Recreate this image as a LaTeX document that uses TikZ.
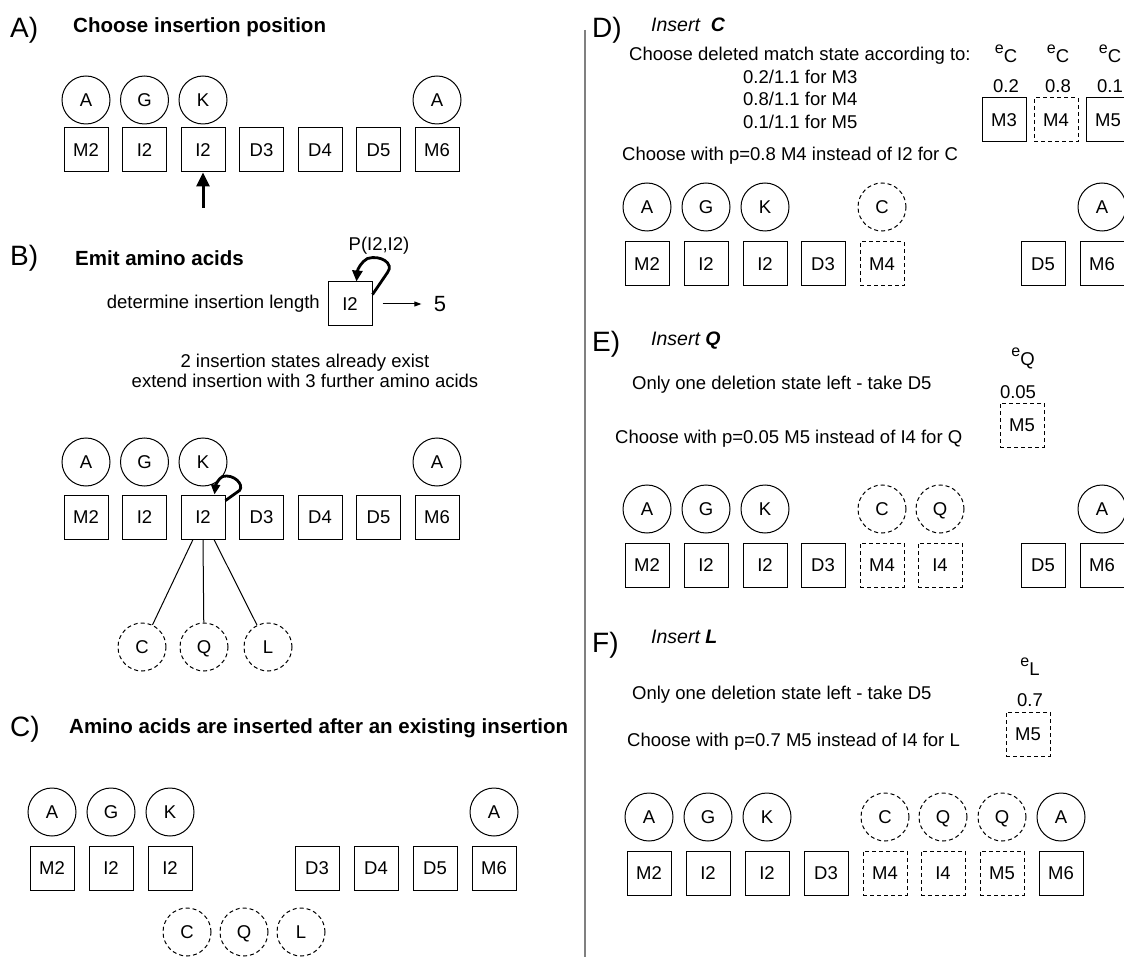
\documentclass[tikz,border=0pt]{standalone}
\usepackage{fontspec}
\setmainfont{Liberation Sans}
\usetikzlibrary{arrows.meta,calc}
\begin{document}
\begin{tikzpicture}[x=1pt,y=-1pt,
  every node/.style={font=\fontsize{18.5}{20}\selectfont},
  st/.style={draw,line width=1pt,minimum size=44pt,inner sep=0pt,text height=13.3pt,text depth=0pt},
  dst/.style={st,dash pattern=on 4pt off 3pt},
  aa/.style={draw,circle,line width=1pt,minimum size=48pt,inner sep=0pt,text height=13.3pt,text depth=0pt},
  daa/.style={aa,dash pattern=on 4pt off 3pt},
  plab/.style={font=\fontsize{28}{30}\selectfont,anchor=base west,inner sep=0pt},
  head/.style={font=\fontsize{20.5}{22}\selectfont\bfseries,anchor=base west,inner sep=0pt},
  ins/.style={font=\fontsize{19.5}{21}\selectfont\itshape,anchor=base west,inner sep=0pt},
  txt/.style={anchor=base west,inner sep=0pt},
  ctxt/.style={anchor=base,inner sep=0pt},
  emis/.style={anchor=base,inner sep=0pt},
  thick3/.style={line width=2.8pt},
]
\useasboundingbox (0,0) rectangle (1124,957);

% ---------------- Panel A
\node[plab] (labA) at (10,38) {A)};
\node[head] (hA) at (73,33) {Choose insertion position};
\foreach \n/\x/\t in {1/86/A,2/144.5/G,3/203/K,7/437/A}
  \node[aa] (ac\n) at (\x,100) {\t};
\foreach \n/\x/\t in {1/86/M2,2/144.5/I2,3/203/I2,4/261.5/D3,5/320/D4,6/378.5/D5,7/437/M6}
  \node[st] (ab\n) at (\x,150) {\t};
\coordinate (arA) at (203,208);
\draw[line width=3pt,-{Triangle[length=14pt,width=13pt]}] (arA) -- (ab3.south);

% ---------------- Panel B
\node[plab] (labB) at (10,266) {B)};
\node[head] (hB) at (75,266) {Emit amino acids};
\node[st] (bI) at (350,304) {I2};
\node[anchor=east,inner sep=0pt] (detl) at (320,304) {determine insertion length};
\node[ctxt] (pII) at (379,251) {P(I2,I2)};
\node[font=\fontsize{22}{24}\selectfont] (five) at (440,304) {5};
\draw[line width=1pt,-{Triangle[length=7pt,width=5pt]},shorten <=10pt,shorten >=9pt] (bI) -- (five);
\draw[thick3,-{Triangle[length=11pt,width=10pt]}]
  ($(bI.north east)+(0,13)$) -- ($(bI.north east)+(15,-9)$)
  .. controls ($(bI.north east)+(22,-18)$) and ($(bI.north east)+(8,-27)$) .. ($(bI.north east)+(-5,-23)$)
  .. controls ($(bI.north east)+(-11,-20)$) and ($(bI.north east)+(-15,-12)$) .. ($(bI.north east)+(-16,0)$);
\node[ctxt] (t1) at (305,367) {2 insertion states already exist};
\node[ctxt] (t2) at (305,388) {extend insertion with 3 further amino acids};
\foreach \n/\x/\t in {1/86/A,2/144.5/G,3/203/K,7/437/A}
  \node[aa] (bc\n) at (\x,462) {\t};
\foreach \n/\x/\t in {1/86/M2,2/144.5/I2,3/203/I2,4/261.5/D3,5/320/D4,6/378.5/D5,7/437/M6}
  \node[st] (bb\n) at (\x,517) {\t};
\draw[thick3,-{Triangle[length=10pt,width=9pt]}]
  ($(bb3.north east)+(0,6)$) -- ($(bb3.north east)+(14,-4)$)
  .. controls ($(bb3.north east)+(19,-10)$) and ($(bb3.north east)+(8,-21)$) .. ($(bb3.north east)+(-3,-18)$)
  .. controls ($(bb3.north east)+(-7,-16)$) and ($(bb3.north east)+(-10,-9)$) .. ($(bb3.north east)+(-11,0)$);
\node[daa] (fC) at (142,647) {C};
\node[daa] (fQ) at (204,647) {Q};
\node[daa] (fL) at (268,647) {L};
\draw[line width=1pt] ($(bb3.south)+(-10,0)$) -- (fC);
\draw[line width=1pt] (bb3.south) -- (fQ);
\draw[line width=1pt] ($(bb3.south)+(11,0)$) -- (fL);

% ---------------- Panel C
\node[plab] (labC) at (10,736) {C)};
\node[head] (hC) at (69,733) {Amino acids are inserted after an existing insertion};
\foreach \n/\x/\t in {1/52/A,2/111/G,3/170/K,7/494/A}
  \node[aa] (cc\n) at (\x,812) {\t};
\foreach \n/\x/\t in {1/52/M2,2/111/I2,3/170/I2,4/317/D3,5/376/D4,6/435/D5,7/494/M6}
  \node[st] (cb\n) at (\x,868) {\t};
\node[daa] (cC) at (187,932) {C};
\node[daa] (cQ) at (244,932) {Q};
\node[daa] (cL) at (301,932) {L};

% ---------------- divider
\coordinate (dvT) at (585,30);
\coordinate (dvB) at (585,957);
\draw[black!50,line width=2pt] (dvT) -- (dvB);

% ---------------- Panel D
\node[plab] (labD) at (592,38) {D)};
\node[ins] (hD) at (651,32) {Insert\hspace{11pt}\textbf{C}};
\node[txt] (dt1) at (629,61) {Choose deleted match state according to:};
\node[txt] (dt2) at (743,84) {0.2/1.1 for M3};
\node[txt] (dt3) at (743,106) {0.8/1.1 for M4};
\node[txt] (dt4) at (743,129) {0.1/1.1 for M5};
\node[txt] (dt5) at (622,161) {Choose with p=0.8 M4 instead of I2 for C};
\foreach \n/\x/\p/\s in {1/1004/0.2/st,2/1056/0.8/dst,3/1108/0.1/st}{
  \node[\s] (dm\n) at (\x,120) {\ifcase\n\or M3\or M4\or M5\fi};
  \node[emis] (dp\n) at (\x+2,93) {\p};
  \node[emis] (de\n) at (\x+2,63) {\raisebox{9pt}{\fontsize{16}{16}\selectfont e}C};
}
\foreach \n/\x/\t/\s in {1/647/A/aa,2/706/G/aa,3/765/K/aa,5/882/C/daa,7/1102/A/aa}
  \node[\s] (dc\n) at (\x,207) {\t};
\foreach \n/\x/\t/\s in {1/647/M2/st,2/706/I2/st,3/765/I2/st,4/823/D3/st,5/882/M4/dst,6/1043/D5/st,7/1102/M6/st}
  \node[\s] (db\n) at (\x,264) {\t};

% ---------------- Panel E
\node[plab] (labE) at (592,352) {E)};
\node[ins] (hE) at (651,346) {Insert \textbf{Q}};
\node[emis] (eeq) at (1023,366) {\raisebox{9pt}{\fontsize{16}{16}\selectfont e}Q};
\node[txt] (et1) at (632,389) {Only one deletion state left - take D5};
\node[emis] (ep) at (1018,398) {0.05};
\node[dst] (em) at (1022,425) {M5};
\node[txt] (et2) at (615,443) {Choose with p=0.05 M5 instead of I4 for Q};
\foreach \n/\x/\t/\s in {1/647/A/aa,2/706/G/aa,3/765/K/aa,5/882/C/daa,6/940/Q/daa,8/1102/A/aa}
  \node[\s] (ec\n) at (\x,509) {\t};
\foreach \n/\x/\t/\s in {1/647/M2/st,2/706/I2/st,3/765/I2/st,4/823/D3/st,5/882/M4/dst,6/940/I4/dst,7/1043/D5/st,8/1102/M6/st}
  \node[\s] (eb\n) at (\x,565) {\t};

% ---------------- Panel F
\node[plab] (labF) at (592,652) {F)};
\node[ins] (hF) at (651,643) {Insert \textbf{L}};
\node[emis] (fel) at (1030,675) {\raisebox{9pt}{\fontsize{16}{16}\selectfont e}L};
\node[txt] (ft1) at (632,699) {Only one deletion state left - take D5};
\node[emis] (fp) at (1030,706) {0.7};
\node[dst] (fm) at (1028,734) {M5};
\node[txt] (ft2) at (627,746) {Choose with p=0.7 M5 instead of I4 for L};
\foreach \n/\x/\t/\s in {1/649/A/aa,2/708/G/aa,3/767/K/aa,5/885/C/daa,6/943/Q/daa,7/1002/Q/daa,8/1061/A/aa}
  \node[\s] (fc\n) at (\x,817) {\t};
\foreach \n/\x/\t/\s in {1/649/M2/st,2/708/I2/st,3/767/I2/st,4/826/D3/st,5/885/M4/dst,6/943/I4/dst,7/1002/M5/dst,8/1061/M6/st}
  \node[\s] (fb\n) at (\x,873) {\t};
\end{tikzpicture}
\end{document}
